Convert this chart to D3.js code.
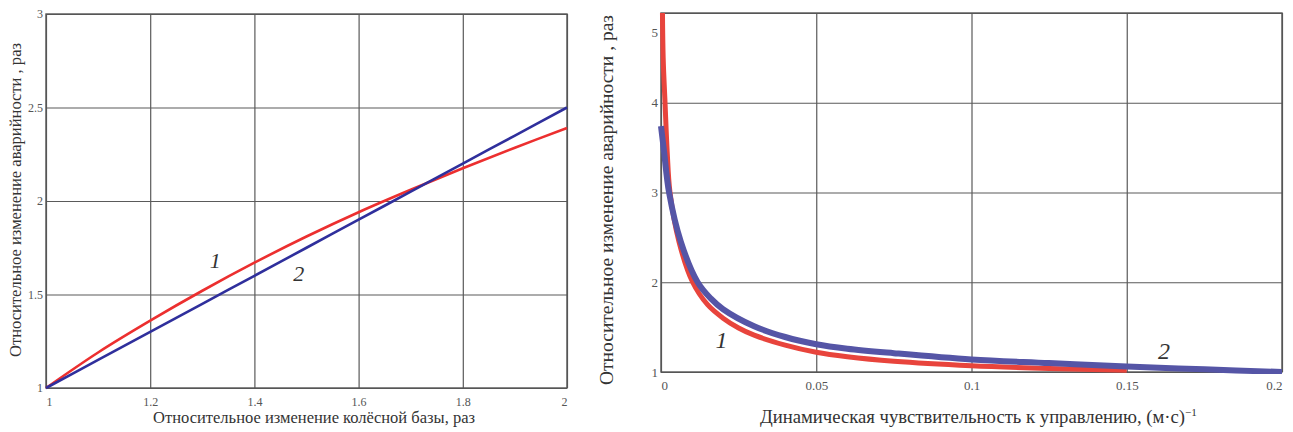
<!DOCTYPE html>
<html>
<head>
<meta charset="utf-8">
<script src="https://cdn.jsdelivr.net/npm/d3@7"></script>
<style>
  body { margin: 0; background: #fff; }
  .grid path { display: none; }
</style>
</head>
<body>
<svg id="chart" width="1293" height="432"></svg>
<script>
// left chart: wheelbase change
var baseX = [1, 1.1, 1.2, 1.3, 1.4, 1.5, 1.6, 1.7, 1.8, 1.9, 2];
var baseCurve1 = [1, 1.19, 1.36, 1.52, 1.67, 1.81, 1.94, 2.06, 2.175, 2.285, 2.39];
var baseCurve2 = [1, 1.15, 1.3, 1.45, 1.6, 1.75, 1.9, 2.05, 2.2, 2.35, 2.5];
var baseXTicks = [1, 1.2, 1.4, 1.6, 1.8, 2];
var baseYTicks = [1, 1.5, 2, 2.5, 3];

// right chart: dynamic sensitivity
var sensX1 = [0.0004, 0.0007, 0.0013, 0.002, 0.0029, 0.0058, 0.0102, 0.015, 0.02, 0.025, 0.03, 0.04, 0.05, 0.06, 0.075, 0.1, 0.125, 0.15];
var sensCurve1 = [5.3, 4.5, 4.0, 3.45, 3.0, 2.45, 2.0, 1.75, 1.6, 1.49, 1.41, 1.3, 1.22, 1.17, 1.12, 1.07, 1.04, 1.02];
var sensX2 = [0, 0.001, 0.0026, 0.0064, 0.0118, 0.016, 0.02, 0.03, 0.04, 0.05, 0.06, 0.075, 0.1, 0.125, 0.15, 0.175, 0.2];
var sensCurve2 = [3.74, 3.45, 3.0, 2.45, 2.0, 1.82, 1.7, 1.51, 1.39, 1.31, 1.26, 1.21, 1.14, 1.1, 1.06, 1.03, 1.0];
var sensXTicks = [0, 0.05, 0.1, 0.15, 0.2];
var sensYTicks = [1, 2, 3, 4, 5];

var yTitle = "Относительное изменение аварийности , раз";
var serif = "'Liberation Serif', 'Times New Roman', serif";
var svg = d3.select("#chart");

function panel(opt) {
    var x = d3.scaleLinear().domain(opt.xDomain).range([opt.left, opt.right]);
    var y = d3.scaleLinear().domain(opt.yDomain).range([opt.bottom, opt.top]);
    var w = opt.right - opt.left, h = opt.bottom - opt.top;
    var g = svg.append("g");

    // grid via axes
    var gx = g.append("g").attr("class", "grid")
        .attr("transform", "translate(0," + opt.bottom + ")")
        .call(d3.axisBottom(x).tickValues(opt.xTicks).tickSize(-h).tickFormat(String));
    gx.selectAll("text").style("font-family", serif).attr("fill", "#555")
        .attr("font-size", opt.tickSize).attr("y", opt.xLabelY)
        .attr("text-anchor", function(d) { return d == opt.xDomain[1] ? "end" : (d == opt.xDomain[0] ? "start" : "middle"); });
    var gy = g.append("g").attr("class", "grid")
        .attr("transform", "translate(" + opt.left + ",0)")
        .call(d3.axisLeft(y).tickValues(opt.yTicks).tickSize(-w).tickFormat(String));
    gy.selectAll("text").style("font-family", serif).attr("fill", "#555")
        .attr("font-size", opt.tickSize).attr("x", -3)
        .attr("dy", function(d) { return d == opt.yDomain[1] ? opt.topLabelDy : "0.32em"; });
    g.selectAll(".grid .tick line").attr("stroke", "#5a5a5a").attr("stroke-width", 1.2);

    g.append("rect").attr("x", opt.left).attr("y", opt.top).attr("width", w).attr("height", h)
        .attr("fill", "none").attr("stroke", "#555").attr("stroke-width", 1.4);

    var clipId = "clip" + opt.left;
    svg.append("clipPath").attr("id", clipId).append("rect")
        .attr("x", opt.left - 4).attr("y", opt.top).attr("width", w + 8).attr("height", h + 2);

    var line = d3.line().curve(d3.curveCatmullRom.alpha(0.5))
        .x(function(d) { return x(d[0]); })
        .y(function(d) { return y(d[1]); });

    opt.series.forEach(function(s) {
        g.append("path")
            .datum(d3.zip(s.xs, s.ys))
            .attr("clip-path", "url(#" + clipId + ")")
            .attr("fill", "none")
            .attr("stroke", s.color)
            .attr("stroke-width", s.width)
            .attr("stroke-linejoin", "round")
            .attr("d", line);
    });

    opt.labels.forEach(function(l) {
        g.append("text").attr("x", x(l.x)).attr("y", y(l.y))
            .style("font-family", serif)
            .attr("font-size", opt.markSize).attr("font-style", "italic")
            .attr("fill", "#333").attr("text-anchor", "middle").text(l.t);
    });

    g.append("text")
        .attr("transform", "translate(" + opt.yTitleX + "," + opt.yTitleC + ")rotate(-90)")
        .attr("text-anchor", "middle").attr("dy", "0.35em")
        .style("font-family", serif)
        .attr("font-size", opt.titleSize).attr("fill", "#333")
        .attr("textLength", opt.yTitleLen).attr("lengthAdjust", "spacingAndGlyphs")
        .text(yTitle);

    var xt = g.append("text")
        .attr("x", opt.xTitleX).attr("y", opt.xTitleY)
        .style("font-family", serif)
        .attr("font-size", opt.titleSize).attr("fill", "#333");
    xt.append("tspan").attr("textLength", opt.xTitleLen).attr("lengthAdjust", "spacingAndGlyphs")
        .text(opt.xTitle);
    if (opt.xTitleSup) {
        xt.append("tspan").attr("font-size", opt.titleSize * 0.62).attr("dy", "-0.6em").text(opt.xTitleSup);
    }
}

panel({
    left: 46, right: 567, top: 14, bottom: 388,
    xDomain: [1, 2], yDomain: [1, 3],
    xTicks: baseXTicks, yTicks: baseYTicks,
    tickSize: 12, xLabelY: 9, topLabelDy: "0.3em",
    titleSize: 16, markSize: 22,
    yTitleX: 15, yTitleC: 200, yTitleLen: 314,
    xTitleX: 153, xTitleY: 423, xTitleLen: 322,
    xTitle: "Относительное изменение колёсной базы, раз",
    series: [
        { xs: baseX, ys: baseCurve1, color: "#ec2f2f", width: 2.6 },
        { xs: baseX, ys: baseCurve2, color: "#2f2f9c", width: 2.6 }
    ],
    labels: [{ x: 1.325, y: 1.64, t: "1" }, { x: 1.485, y: 1.57, t: "2" }]
});

panel({
    left: 661, right: 1282, top: 13, bottom: 372,
    xDomain: [0, 0.2], yDomain: [1, 5],
    xTicks: sensXTicks, yTicks: sensYTicks,
    tickSize: 13, xLabelY: 9, topLabelDy: "1.8em",
    titleSize: 18, markSize: 24,
    yTitleX: 607, yTitleC: 200, yTitleLen: 370,
    xTitleX: 760, xTitleY: 423, xTitleLen: 425,
    xTitle: "Динамическая чувствительность к управлению, (м·с)",
    xTitleSup: "−1",
    series: [
        { xs: sensX1, ys: sensCurve1, color: "#e8443c", width: 5 },
        { xs: sensX2, ys: sensCurve2, color: "#5555a6", width: 6 }
    ],
    labels: [{ x: 0.0195, y: 1.27, t: "1" }, { x: 0.162, y: 1.15, t: "2" }]
});
</script>
</body>
</html>
